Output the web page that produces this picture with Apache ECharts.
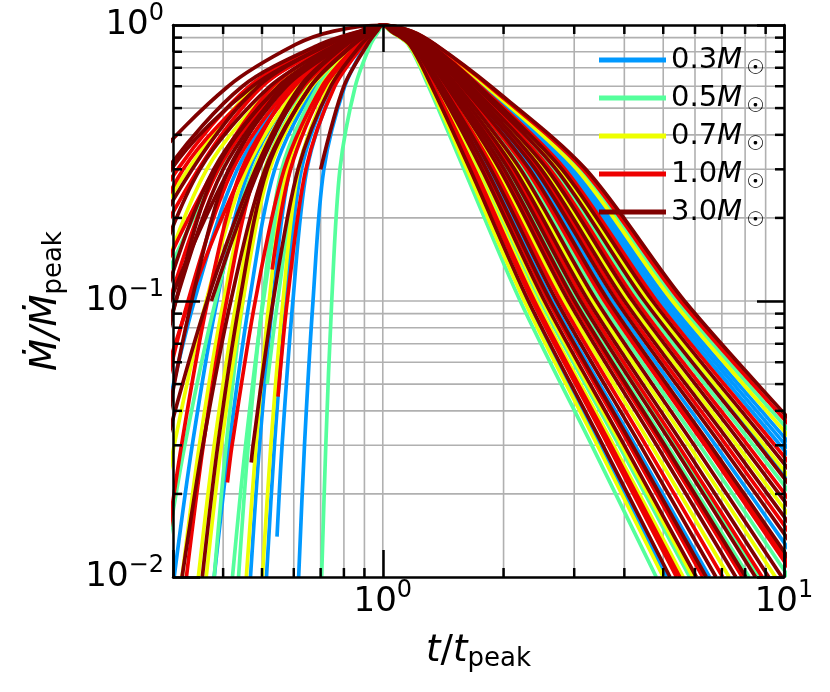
<!DOCTYPE html>
<html><head><meta charset="utf-8">
<script src="https://cdn.jsdelivr.net/npm/echarts@6/dist/echarts.min.js"></script>
<style>html,body{margin:0;padding:0;background:#fff}#c{width:830px;height:692px}</style>
</head><body><div id="c"></div>
<script>
// ---- data ----
const MASS_LABELS = ['0.3', '0.5', '0.7', '1.0', '3.0'];
const MASS_COLORS = ['#0099ff', '#55ff9c', '#eeff00', '#ee0000', '#800000'];
// each curve: times t/t_peak at which Mdot/Mdot_peak reaches these levels
const RISE_LEVELS = [0.01, 0.03, 0.1, 0.3, 0.6, 0.85, 0.95, 1];
const FALL_LEVELS = [0.95, 0.85, 0.6, 0.3, 0.1, 0.03, 0.01];

// first sample [t, Mdot] of curves whose data start inside the frame (null = none)
const START_M03 = [null, null, null, null, [0.545, 0.014], null, null];
const RISE_T_M03 = [
  [0.513, 0.537, 0.574, 0.627, 0.740, 0.875, 0.954, 1],
  [0.468, 0.493, 0.532, 0.587, 0.710, 0.859, 0.948, 1],
  [0.302, 0.335, 0.386, 0.465, 0.619, 0.826, 0.931, 1],
  [0.617, 0.638, 0.670, 0.713, 0.804, 0.908, 0.967, 1],
  [null, 0.561, 0.597, 0.647, 0.756, 0.883, 0.957, 1],
  [0.240, 0.278, 0.339, 0.434, 0.598, 0.807, 0.924, 1],
  [0.380, 0.414, 0.465, 0.538, 0.679, 0.857, 0.944, 1]
];
const FALL_T_M03 = [
  [1.166, 1.332, 1.794, 2.995, 5.153, 10.41, 19.5],
  [1.163, 1.327, 1.779, 2.945, 5.038, 10.10, 18.80],
  [1.159, 1.322, 1.764, 2.894, 4.923, 9.79, 18.1],
  [1.049, 1.164, 1.318, 1.636, 2.281, 3.483, 5.10],
  [1.070, 1.193, 1.395, 1.828, 2.649, 4.256, 6.521],
  [1.118, 1.263, 1.589, 2.360, 3.737, 6.757, 11.49],
  [1.148, 1.305, 1.711, 2.728, 4.544, 8.79, 15.86]
];

const START_M05 = [null, null, null, null, null, [0.515, 0.05], null];
const RISE_T_M05 = [
  [0.704, 0.721, 0.746, 0.782, 0.854, 0.932, 0.976, 1],
  [0.380, 0.407, 0.448, 0.508, 0.647, 0.824, 0.926, 1],
  [0.422, 0.455, 0.504, 0.575, 0.708, 0.871, 0.950, 1],
  [0.437, 0.462, 0.502, 0.560, 0.689, 0.847, 0.936, 1],
  [0.282, 0.321, 0.383, 0.476, 0.634, 0.827, 0.933, 1],
  [null, null, 0.547, 0.615, 0.738, 0.885, 0.955, 1],
  [0.158, 0.200, 0.272, 0.390, 0.542, 0.759, 0.904, 1]
];
const FALL_T_M05 = [
  [1.044, 1.157, 1.300, 1.594, 2.201, 3.319, 4.803],
  [1.173, 1.342, 1.826, 3.099, 5.396, 11.07, 21.0],
  [1.109, 1.249, 1.549, 2.242, 3.489, 6.163, 10.27],
  [1.060, 1.179, 1.359, 1.736, 2.471, 3.878, 5.818],
  [1.094, 1.228, 1.489, 2.077, 3.147, 5.364, 8.66],
  [1.089, 1.221, 1.470, 2.025, 3.040, 5.122, 8.181],
  [1.143, 1.297, 1.689, 2.659, 4.391, 8.390, 14.99]
];

const START_M07 = [null, null, null, null, null, null, null, null];
const RISE_T_M07 = [
  [0.316, 0.349, 0.401, 0.479, 0.631, 0.832, 0.933, 1],
  [0.347, 0.380, 0.432, 0.508, 0.655, 0.844, 0.938, 1],
  [0.457, 0.483, 0.521, 0.578, 0.703, 0.855, 0.939, 1],
  [0.501, 0.526, 0.564, 0.617, 0.733, 0.871, 0.946, 1],
  [0.178, 0.213, 0.270, 0.364, 0.537, 0.772, 0.910, 1],
  [0.112, 0.149, 0.213, 0.327, 0.483, 0.720, 0.887, 1],
  [0.363, 0.396, 0.448, 0.523, 0.667, 0.850, 0.941, 1],
  [0.263, 0.302, 0.363, 0.458, 0.618, 0.818, 0.929, 1]
];
const FALL_T_M07 = [
  [1.047, 1.161, 1.312, 1.622, 2.254, 3.428, 5.000],
  [1.149, 1.307, 1.718, 2.751, 4.597, 8.925, 16.16],
  [1.062, 1.182, 1.365, 1.751, 2.501, 3.940, 5.93],
  [1.079, 1.206, 1.432, 1.923, 2.837, 4.667, 7.298],
  [1.170, 1.337, 1.810, 3.047, 5.275, 10.74, 20.25],
  [1.132, 1.282, 1.645, 2.526, 4.097, 7.644, 13.37],
  [1.057, 1.175, 1.347, 1.707, 2.416, 3.762, 5.607],
  [1.102, 1.239, 1.522, 2.167, 3.333, 5.795, 9.520]
];

const START_M10 = [null, null, null, null, null, [0.41, 0.022], [0.53, 0.13], [0.548, 0.045], null, null, null, null];
const RISE_T_M10 = [
  [0.126, 0.164, 0.231, 0.347, 0.501, 0.733, 0.892, 1],
  [0.100, 0.134, 0.196, 0.308, 0.465, 0.708, 0.881, 1],
  [0.200, 0.236, 0.294, 0.389, 0.560, 0.785, 0.915, 1],
  [0.229, 0.267, 0.327, 0.423, 0.588, 0.802, 0.922, 1],
  [0.324, 0.357, 0.408, 0.485, 0.637, 0.835, 0.935, 1],
  [null, 0.421, 0.481, 0.568, 0.706, 0.865, 0.948, 1],
  [null, null, null, 0.589, 0.718, 0.876, 0.951, 1],
  [null, null, 0.578, 0.643, 0.759, 0.895, 0.959, 1],
  [0.151, 0.193, 0.263, 0.381, 0.533, 0.753, 0.901, 1],
  [0.141, 0.173, 0.227, 0.318, 0.494, 0.746, 0.898, 1],
  [0.209, 0.255, 0.330, 0.450, 0.594, 0.791, 0.918, 1],
  [0.282, 0.315, 0.366, 0.445, 0.603, 0.817, 0.927, 1]
];
const FALL_T_M10 = [
  [1.177, 1.347, 1.842, 3.153, 5.523, 11.43, 21.85],
  [1.139, 1.292, 1.674, 2.613, 4.290, 8.130, 14.42],
  [1.114, 1.256, 1.569, 2.300, 3.611, 6.454, 10.86],
  [1.053, 1.170, 1.335, 1.678, 2.360, 3.646, 5.395],
  [1.055, 1.173, 1.341, 1.693, 2.388, 3.704, 5.50],
  [1.085, 1.216, 1.457, 1.990, 2.970, 4.964, 7.872],
  [1.066, 1.188, 1.383, 1.796, 2.588, 4.124, 6.275],
  [1.096, 1.230, 1.495, 2.095, 3.183, 5.448, 8.825],
  [1.125, 1.272, 1.617, 2.441, 3.912, 7.187, 12.39],
  [1.076, 1.202, 1.420, 1.891, 2.774, 4.527, 7.033],
  [1.112, 1.253, 1.562, 2.280, 3.569, 6.353, 10.65],
  [1.156, 1.317, 1.749, 2.846, 4.813, 9.495, 17.44]
];

const START_M30 = [null, null, null, null, null, null, null, [0.47, 0.026], null, null, null, null, null, null, null, null];
const RISE_T_M30 = [
  [0.070, 0.098, 0.152, 0.257, 0.412, 0.607, 0.755, 1],
  [0.089, 0.121, 0.181, 0.290, 0.447, 0.696, 0.876, 1],
  [0.117, 0.155, 0.220, 0.335, 0.490, 0.725, 0.889, 1],
  [0.126, 0.156, 0.208, 0.297, 0.474, 0.733, 0.892, 1],
  [0.166, 0.200, 0.256, 0.350, 0.524, 0.764, 0.906, 1],
  [0.178, 0.222, 0.295, 0.414, 0.562, 0.772, 0.909, 1],
  [0.251, 0.283, 0.334, 0.413, 0.575, 0.802, 0.920, 1],
  [null, 0.475, 0.533, 0.615, 0.742, 0.883, 0.955, 1],
  [0.209, 0.246, 0.305, 0.400, 0.569, 0.791, 0.918, 1],
  [0.355, 0.388, 0.440, 0.515, 0.661, 0.847, 0.940, 1],
  [0.240, 0.288, 0.365, 0.482, 0.622, 0.807, 0.924, 1],
  [0.316, 0.356, 0.418, 0.509, 0.661, 0.841, 0.939, 1],
  [null, null, null, 0.700, 0.800, 0.915, 0.967, 1],
  [null, null, 0.374, 0.491, 0.630, 0.812, 0.927, 1],
  [0.224, 0.255, 0.305, 0.384, 0.550, 0.787, 0.914, 1],
  [0.191, 0.226, 0.284, 0.379, 0.551, 0.780, 0.913, 1]
];
const FALL_T_M30 = [
  [1.180, 1.352, 1.858, 3.206, 5.649, 11.78, 22.7],
  [1.092, 1.225, 1.482, 2.059, 3.110, 5.280, 8.490],
  [1.146, 1.302, 1.703, 2.704, 4.491, 8.650, 15.55],
  [1.122, 1.268, 1.603, 2.401, 3.825, 6.972, 11.94],
  [1.063, 1.184, 1.371, 1.766, 2.530, 4.001, 6.047],
  [1.136, 1.287, 1.660, 2.570, 4.194, 7.887, 13.90],
  [1.050, 1.166, 1.324, 1.650, 2.307, 3.537, 5.198],
  [1.082, 1.211, 1.445, 1.957, 2.904, 4.816, 7.585],
  [1.115, 1.258, 1.576, 2.320, 3.653, 6.555, 11.07],
  [1.073, 1.197, 1.407, 1.859, 2.710, 4.387, 6.767],
  [1.152, 1.312, 1.733, 2.798, 4.702, 9.200, 16.77],
  [1.105, 1.244, 1.535, 2.204, 3.409, 5.973, 9.880],
  [1.087, 1.219, 1.464, 2.008, 3.005, 5.043, 8.03],
  [1.099, 1.234, 1.508, 2.130, 3.256, 5.616, 9.160],
  [1.068, 1.191, 1.389, 1.812, 2.619, 4.190, 6.40],
  [1.129, 1.277, 1.631, 2.484, 4.005, 7.416, 12.88]
];

// axis tick / grid positions
const X_MIN = 0.3, X_MAX = 10, Y_MIN = 0.01, Y_MAX = 1;
const X_GRID = [0.4, 0.5, 0.6, 0.7, 0.8, 0.9, 1, 2, 3, 4, 5, 6, 7, 8, 9];
const Y_GRID = [0.02, 0.03, 0.04, 0.05, 0.06, 0.07, 0.08, 0.09, 0.1, 0.2, 0.3, 0.4, 0.5, 0.6, 0.7, 0.8, 0.9];
const X_MINOR = [0.4, 0.5, 0.6, 0.7, 0.8, 0.9, 2, 3, 4, 5, 6, 7, 8, 9];
const Y_MINOR = [0.02, 0.03, 0.04, 0.05, 0.06, 0.07, 0.08, 0.09, 0.2, 0.3, 0.4, 0.5, 0.6, 0.7, 0.8, 0.9];

// ---- chart ----
const FONT = 'DejaVu Sans';
const STARTS = [START_M03, START_M05, START_M07, START_M10, START_M30];
const RISE_T = [RISE_T_M03, RISE_T_M05, RISE_T_M07, RISE_T_M10, RISE_T_M30];
const FALL_T = [FALL_T_M03, FALL_T_M05, FALL_T_M07, FALL_T_M10, FALL_T_M30];

const series = [];
series.push({
  type: 'custom', coordinateSystem: 'cartesian2d', silent: true, z: 1, clip: false,
  data: X_GRID.map(v => [v, Y_MIN, 0]).concat(Y_GRID.map(v => [X_MIN, v, 1])),
  renderItem: function (params, api) {
    let a, b;
    if (api.value(2) === 0) { a = api.coord([api.value(0), Y_MIN]); b = api.coord([api.value(0), Y_MAX]); }
    else { a = api.coord([X_MIN, api.value(1)]); b = api.coord([X_MAX, api.value(1)]); }
    return { type: 'line', shape: { x1: a[0], y1: a[1], x2: b[0], y2: b[1] }, style: { stroke: '#b0b0b0', lineWidth: 1.6 } };
  }
});

RISE_T.forEach((group, gi) => {
  group.forEach((rise, ci) => {
    const pts = [];
    if (STARTS[gi][ci]) pts.push(STARTS[gi][ci]);
    rise.forEach((t, j) => { if (t !== null) pts.push([t, RISE_LEVELS[j]]); });
    FALL_T[gi][ci].forEach((t, j) => pts.push([t, FALL_LEVELS[j]]));
    series.push({
      type: 'line', name: MASS_LABELS[gi], data: pts, showSymbol: false, symbol: 'none',
      smooth: 0.3, clip: true, silent: true, z: 2,
      itemStyle: { color: MASS_COLORS[gi] },
      lineStyle: { color: MASS_COLORS[gi], width: 3.7, cap: 'butt', join: 'round' }
    });
  });
});

const TL = 9;
series.push({
  type: 'custom', coordinateSystem: 'cartesian2d', silent: true, z: 20, clip: false,
  data: X_MINOR.map(v => [v, Y_MIN, 0]).concat(Y_MINOR.map(v => [X_MIN, v, 1])),
  renderItem: function (params, api) {
    const st = { stroke: '#000', lineWidth: 2.5 };
    if (api.value(2) === 0) {
      const a = api.coord([api.value(0), Y_MIN]), b = api.coord([api.value(0), Y_MAX]);
      return { type: 'group', children: [
        { type: 'line', shape: { x1: a[0], y1: a[1], x2: a[0], y2: a[1] - TL }, style: st },
        { type: 'line', shape: { x1: b[0], y1: b[1], x2: b[0], y2: b[1] + TL }, style: st }
      ] };
    }
    const a = api.coord([X_MIN, api.value(1)]), b = api.coord([X_MAX, api.value(1)]);
    return { type: 'group', children: [
      { type: 'line', shape: { x1: a[0], y1: a[1], x2: a[0] + TL, y2: a[1] }, style: st },
      { type: 'line', shape: { x1: b[0], y1: b[1], x2: b[0] - TL, y2: b[1] }, style: st }
    ] };
  }
});

function isPow10(v) { const l = Math.log10(v); return Math.abs(l - Math.round(l)) < 1e-6; }
function powLabel(v) {
  if (!isPow10(v)) return '';
  const e = Math.round(Math.log10(v));
  return '{b|10}{s|' + (e < 0 ? '\u2212' + (-e) : e) + '}';
}
const tickRich = {
  b: { fontFamily: FONT, fontSize: 34, color: '#000', lineHeight: 46 },
  s: { fontFamily: FONT, fontSize: 24, color: '#000', lineHeight: 24, padding: [0, 0, 22, 0] }
};
const axisCommon = {
  type: 'log', logBase: 10, z: 10,
  axisLine: { show: true, onZero: false, lineStyle: { color: '#000', width: 2.5 } },
  axisTick: { show: true, inside: true, length: 27, lineStyle: { color: '#000', width: 2.5 } },
  splitLine: { show: false }, minorTick: { show: false }, minorSplitLine: { show: false }
};

const option = {
  animation: false,
  backgroundColor: '#fff',
  grid: { left: 173, right: 46, top: 25, bottom: 115, containLabel: false },
  legend: {
    data: MASS_LABELS, orient: 'vertical', left: 594, top: 36, itemWidth: 67, itemHeight: 5,
    itemGap: 0, icon: 'rect', selectedMode: false,
    formatter: name => '{n|' + name + '}{m|M}{o|\u2609}',
    textStyle: {
      rich: {
        n: { fontFamily: FONT, fontSize: 29, color: '#000', lineHeight: 33 },
        m: { fontFamily: FONT, fontSize: 29, fontStyle: 'italic', color: '#000', lineHeight: 33 },
        o: { fontFamily: FONT, fontSize: 20, color: '#000', lineHeight: 15, padding: [18, 0, 0, 4] }
      }
    }
  },
  xAxis: [
    Object.assign({}, axisCommon, {
      min: X_MIN, max: X_MAX, position: 'bottom',
      axisLabel: { show: true, margin: 2, formatter: powLabel, rich: tickRich },
      name: '{i|t}{r|/}{i|t}{sub|peak}', nameLocation: 'middle', nameGap: 44,
      nameTextStyle: { rich: {
        i: { fontFamily: FONT, fontSize: 37, fontStyle: 'italic', color: '#000', lineHeight: 46 },
        r: { fontFamily: FONT, fontSize: 37, color: '#000', lineHeight: 46 },
        sub: { fontFamily: FONT, fontSize: 26, color: '#000', lineHeight: 30, padding: [16, 0, 0, 0] }
      } }
    }),
    Object.assign({}, axisCommon, { min: X_MIN, max: X_MAX, position: 'top', axisLabel: { show: false } })
  ],
  yAxis: [
    Object.assign({}, axisCommon, {
      min: Y_MIN, max: Y_MAX, position: 'left',
      axisLabel: { show: true, margin: 9, formatter: powLabel, rich: tickRich },
      name: '{i|\u1E40/\u1E40}{sub|peak}', nameLocation: 'middle', nameGap: 104, nameRotate: 90,
      nameTextStyle: { rich: {
        i: { fontFamily: FONT, fontSize: 37, fontStyle: 'italic', color: '#000', lineHeight: 46 },
        sub: { fontFamily: FONT, fontSize: 26, color: '#000', lineHeight: 30, padding: [16, 0, 0, 0] }
      } }
    }),
    Object.assign({}, axisCommon, { min: Y_MIN, max: Y_MAX, position: 'right', axisLabel: { show: false } })
  ],
  series: series
};

const chart = echarts.init(document.getElementById('c'), null, { renderer: 'canvas' });
chart.setOption(option);
</script>
</body></html>
